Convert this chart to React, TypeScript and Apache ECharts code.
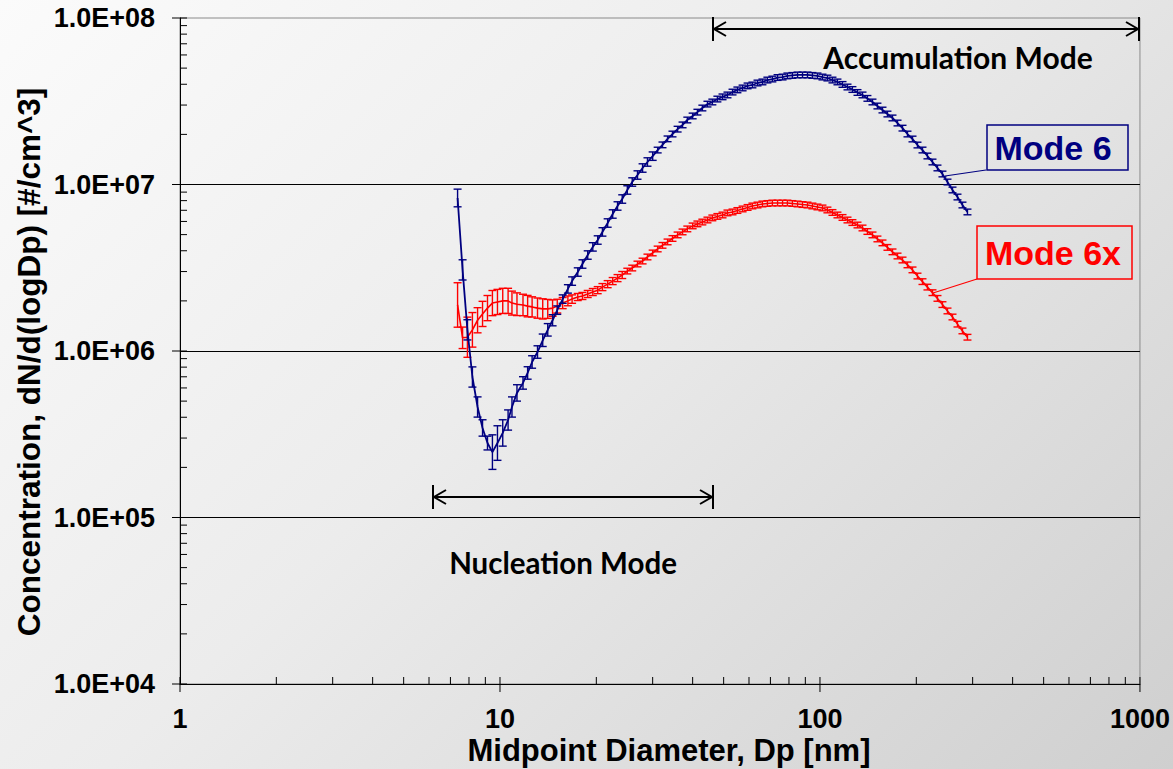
import React, { useEffect, useRef } from "react";
import * as echarts from "echarts";

// SMPS channel midpoint diameters [nm]
const diameters = [
  7.37, 7.64, 7.91, 8.2, 8.51, 8.82, 9.14, 9.47, 9.82, 10.2,
  10.6, 10.9, 11.3, 11.8, 12.2, 12.6, 13.1, 13.6, 14.1, 14.6,
  15.1, 15.7, 16.3, 16.8, 17.5, 18.1, 18.8, 19.5, 20.2, 20.9,
  21.7, 22.5, 23.3, 24.1, 25.0, 25.9, 26.9, 27.9, 28.9, 30.0,
  31.1, 32.2, 33.4, 34.6, 35.9, 37.2, 38.5, 40.0, 41.4, 42.9,
  44.5, 46.1, 47.8, 49.6, 51.4, 53.3, 55.2, 57.3, 59.4, 61.5,
  63.8, 66.1, 68.5, 71.0, 73.7, 76.4, 79.1, 82.0, 85.1, 88.2,
  91.4, 94.7, 98.2, 101.8, 105.5, 109.4, 113.4, 117.6, 121.9, 126.3,
  131.0, 135.8, 140.7, 145.9, 151.2, 156.8, 162.5, 168.5, 174.7, 181.1,
  187.7, 194.6, 201.7, 209.1, 216.7, 224.7, 232.9, 241.4, 250.3, 259.5,
  269.0, 278.8, 289.0,
];

// Mode 6 concentration dN/dlogDp [#/cm^3]
const mode6 = [
  8.3e6, 3.07e6, 1.34e6, 6.98e5, 4.61e5, 3.45e5, 2.8e5, 2.47e5, 2.8e5, 3.22e5,
  3.85e5, 4.61e5, 5.6e5, 6.43e5, 7.38e5, 8.59e5, 9.86e5, 1.16e6, 1.34e6, 1.53e6,
  1.76e6, 2.05e6, 2.36e6, 2.63e6, 2.98e6, 3.33e6, 3.77e6, 4.22e6, 4.64e6, 5.19e6,
  5.87e6, 6.65e6, 7.43e6, 8.18e6, 9.27e6, 1.035e7, 1.14e7, 1.256e7, 1.365e7, 1.48e7,
  1.61e7, 1.73e7, 1.88e7, 2.01e7, 2.15e7, 2.28e7, 2.44e7, 2.58e7, 2.72e7, 2.88e7,
  3.04e7, 3.13e7, 3.26e7, 3.36e7, 3.45e7, 3.59e7, 3.7e7, 3.8e7, 3.91e7, 3.96e7,
  4.07e7, 4.13e7, 4.24e7, 4.3e7, 4.39e7, 4.42e7, 4.49e7, 4.52e7, 4.55e7, 4.55e7,
  4.55e7, 4.52e7, 4.49e7, 4.42e7, 4.36e7, 4.24e7, 4.13e7, 3.99e7, 3.85e7, 3.72e7,
  3.57e7, 3.45e7, 3.29e7, 3.13e7, 2.96e7, 2.8e7, 2.65e7, 2.51e7, 2.34e7, 2.18e7,
  2.01e7, 1.876e7, 1.726e7, 1.611e7, 1.483e7, 1.365e7, 1.257e7, 1.156e7, 1.035e7, 9.27e6,
  8.41e6, 7.53e6, 6.84e6,
];

// Mode 6 relative error
const mode6Err = [
  0.13, 0.15, 0.15, 0.15, 0.15, 0.12, 0.1, 0.27, 0.27, 0.2,
  0.15, 0.15, 0.12, 0.09, 0.09, 0.09, 0.09, 0.09, 0.09, 0.08,
  0.06, 0.06, 0.06, 0.06, 0.06, 0.06, 0.06, 0.06, 0.06, 0.06,
  0.06, 0.06, 0.06, 0.06, 0.06, 0.06, 0.06, 0.06, 0.06, 0.06,
  0.04, 0.04, 0.04, 0.04, 0.04, 0.04, 0.04, 0.04, 0.04, 0.04,
  0.04, 0.04, 0.04, 0.04, 0.04, 0.04, 0.04, 0.04, 0.04, 0.04,
  0.04, 0.04, 0.04, 0.04, 0.04, 0.04, 0.04, 0.04, 0.04, 0.04,
  0.04, 0.04, 0.04, 0.04, 0.04, 0.04, 0.04, 0.04, 0.04, 0.04,
  0.04, 0.04, 0.04, 0.04, 0.04, 0.04, 0.04, 0.04, 0.04, 0.04,
  0.04, 0.04, 0.04, 0.04, 0.04, 0.04, 0.04, 0.04, 0.04, 0.04,
  0.04, 0.04, 0.04,
];

// Mode 6x concentration dN/dlogDp [#/cm^3]
const mode6x = [
  1.89e6, 1.2e6, 1.21e6, 1.34e6, 1.53e6, 1.67e6, 1.81e6, 1.94e6, 1.97e6, 2.0e6,
  2.0e6, 1.94e6, 1.91e6, 1.89e6, 1.86e6, 1.84e6, 1.81e6, 1.79e6, 1.79e6, 1.81e6,
  1.86e6, 1.94e6, 2.0e6, 2.05e6, 2.11e6, 2.14e6, 2.2e6, 2.26e6, 2.32e6, 2.42e6,
  2.52e6, 2.63e6, 2.74e6, 2.86e6, 3.02e6, 3.15e6, 3.33e6, 3.47e6, 3.67e6, 3.88e6,
  4.1e6, 4.31e6, 4.52e6, 4.74e6, 4.98e6, 5.19e6, 5.41e6, 5.64e6, 5.8e6, 5.95e6,
  6.12e6, 6.3e6, 6.43e6, 6.56e6, 6.75e6, 6.84e6, 6.98e6, 7.13e6, 7.28e6, 7.43e6,
  7.53e6, 7.64e6, 7.69e6, 7.74e6, 7.74e6, 7.74e6, 7.74e6, 7.69e6, 7.64e6, 7.58e6,
  7.53e6, 7.43e6, 7.33e6, 7.23e6, 7.03e6, 6.79e6, 6.56e6, 6.34e6, 6.12e6, 5.91e6,
  5.71e6, 5.48e6, 5.22e6, 4.98e6, 4.71e6, 4.46e6, 4.19e6, 3.94e6, 3.72e6, 3.52e6,
  3.29e6, 3.07e6, 2.82e6, 2.61e6, 2.42e6, 2.24e6, 2.07e6, 1.9e6, 1.74e6, 1.6e6,
  1.45e6, 1.32e6, 1.21e6,
];

// Mode 6x relative error
const mode6xErr = [
  0.36, 0.16, 0.32, 0.27, 0.19, 0.19, 0.19, 0.19, 0.19, 0.19,
  0.19, 0.18, 0.17, 0.16, 0.16, 0.15, 0.15, 0.15, 0.14, 0.12,
  0.1, 0.08, 0.07, 0.06, 0.05, 0.05, 0.05, 0.05, 0.05, 0.05,
  0.05, 0.05, 0.05, 0.05, 0.04, 0.04, 0.04, 0.04, 0.04, 0.04,
  0.04, 0.04, 0.04, 0.04, 0.04, 0.04, 0.04, 0.04, 0.04, 0.04,
  0.04, 0.04, 0.04, 0.04, 0.04, 0.04, 0.04, 0.04, 0.04, 0.04,
  0.04, 0.04, 0.04, 0.04, 0.04, 0.04, 0.04, 0.04, 0.04, 0.04,
  0.04, 0.04, 0.04, 0.04, 0.04, 0.04, 0.04, 0.04, 0.04, 0.04,
  0.04, 0.04, 0.04, 0.04, 0.04, 0.04, 0.04, 0.04, 0.04, 0.04,
  0.04, 0.04, 0.04, 0.04, 0.04, 0.04, 0.04, 0.04, 0.04, 0.04,
  0.04, 0.04, 0.04,
];

const xTickLabels = ["1", "10", "100", "1000"];
const yTickLabels = ["1.0E+04", "1.0E+05", "1.0E+06", "1.0E+07", "1.0E+08"];
const xMajorTicks = [1, 10, 100, 1000];
const yMajorTicks = [1e4, 1e5, 1e6, 1e7, 1e8];
const minorMultipliers = [2, 3, 4, 5, 6, 7, 8, 9];

const X_MIN = 1;
const Y_MIN = 1e4;
const NAVY = "#000080";
const RED = "#ff0000";
const FONT = "'Liberation Sans', Arial, sans-serif";
const ANNOT_FONT = "Lato, 'Open Sans', sans-serif";

function errorBarRenderer(color: string) {
  return (params: any, api: any) => {
    const x = api.value(0);
    const lo = api.coord([x, api.value(1)]);
    const hi = api.coord([x, api.value(2)]);
    const hw = 4;
    const style = { stroke: color, lineWidth: 1.4 };
    return {
      type: "group",
      children: [
        { type: "line", shape: { x1: lo[0], y1: lo[1], x2: hi[0], y2: hi[1] }, style },
        { type: "line", shape: { x1: lo[0] - hw, y1: lo[1], x2: lo[0] + hw, y2: lo[1] }, style },
        { type: "line", shape: { x1: hi[0] - hw, y1: hi[1], x2: hi[0] + hw, y2: hi[1] }, style },
      ],
    };
  };
}

function minorOf(majors: number[]) {
  const out: number[] = [];
  for (let i = 0; i < majors.length - 1; i++) {
    for (const m of minorMultipliers) out.push(majors[i] * m);
  }
  return out;
}

function arrow(x1: number, x2: number, y: number) {
  const s = { stroke: "#000", lineWidth: 2 };
  const h = 12;
  const a = 13;
  const w = 7;
  return {
    type: "group",
    children: [
      { type: "line", shape: { x1, y1: y, x2, y2: y }, style: s },
      { type: "line", shape: { x1, y1: y - h, x2: x1, y2: y + h }, style: s },
      { type: "line", shape: { x1: x2, y1: y - h, x2, y2: y + h }, style: s },
      { type: "polyline", shape: { points: [[x1 + a, y - w], [x1 + 1, y], [x1 + a, y + w]] }, style: { ...s, fill: "none" } },
      { type: "polyline", shape: { points: [[x2 - a, y - w], [x2 - 1, y], [x2 - a, y + w]] }, style: { ...s, fill: "none" } },
    ],
  };
}

export default function App() {
  const ref = useRef<HTMLDivElement>(null);

  useEffect(() => {
    const chart = echarts.init(ref.current!, undefined, { renderer: "svg" });

    const xTicks = [
      ...xMajorTicks.map((v) => [v, Y_MIN, 1]),
      ...minorOf(xMajorTicks).map((v) => [v, Y_MIN, 0]),
    ];
    const yTicks = [
      ...yMajorTicks.map((v) => [X_MIN, v, 1]),
      ...minorOf(yMajorTicks).map((v) => [X_MIN, v, 0]),
    ];

    const m6Line = diameters.map((d, i) => [d, mode6[i]]);
    const m6xLine = diameters.map((d, i) => [d, mode6x[i]]);
    const m6Err = diameters.map((d, i) => [d, mode6[i] / (1 + mode6Err[i]), mode6[i] * (1 + mode6Err[i])]);
    const m6xErr = diameters.map((d, i) => [d, mode6x[i] / (1 + mode6xErr[i]), mode6x[i] * (1 + mode6xErr[i])]);

    const tickStyle = { stroke: "#000", lineWidth: 1 };

    chart.setOption({
      animation: false,
      backgroundColor: "transparent",
      grid: {
        left: 180,
        top: 18,
        width: 960,
        height: 666,
        show: true,
        borderColor: "#8a8a8a",
        borderWidth: 1,
        backgroundColor: "transparent",
      },
      xAxis: {
        type: "log",
        logBase: 10,
        min: 1,
        max: 1000,
        axisLine: { show: true, lineStyle: { color: "#000", width: 1 } },
        axisTick: { show: false },
        splitLine: { show: false },
        axisLabel: {
          showMinLabel: true,
          showMaxLabel: true,
          margin: 21,
          color: "#000",
          fontSize: 27,
          fontWeight: "bold",
          fontFamily: FONT,
          formatter: (v: number) => xTickLabels[Math.round(Math.log10(v))] ?? "",
        },
      },
      yAxis: {
        type: "log",
        logBase: 10,
        min: 1e4,
        max: 1e8,
        axisLine: { show: true, lineStyle: { color: "#000", width: 1 } },
        axisTick: { show: false },
        splitLine: {
          show: true,
          showMinLine: false,
          showMaxLine: false,
          lineStyle: { color: "#000", width: 1 },
        },
        axisLabel: {
          showMinLabel: true,
          showMaxLabel: true,
          margin: 25,
          color: "#000",
          fontSize: 27,
          fontWeight: "bold",
          fontFamily: FONT,
          formatter: (v: number) => yTickLabels[Math.round(Math.log10(v)) - 4] ?? "",
        },
      },
      series: [
        {
          type: "custom",
          name: "Mode 6x error",
          data: m6xErr,
          encode: { x: 0, y: [1, 2] },
          renderItem: errorBarRenderer(RED),
          silent: true,
          z: 2,
        },
        {
          type: "line",
          name: "Mode 6x",
          data: m6xLine,
          showSymbol: false,
          symbol: "none",
          lineStyle: { color: RED, width: 1.6 },
          itemStyle: { color: RED },
          silent: true,
          z: 3,
        },
        {
          type: "custom",
          name: "Mode 6 error",
          data: m6Err,
          encode: { x: 0, y: [1, 2] },
          renderItem: errorBarRenderer(NAVY),
          silent: true,
          z: 4,
        },
        {
          type: "line",
          name: "Mode 6",
          data: m6Line,
          showSymbol: false,
          symbol: "none",
          lineStyle: { color: NAVY, width: 1.8 },
          itemStyle: { color: NAVY },
          silent: true,
          z: 5,
        },
        {
          type: "custom",
          name: "xticks",
          data: xTicks,
          encode: { x: 0, y: 1 },
          silent: true,
          z: 6,
          renderItem: (params: any, api: any) => {
            const p = api.coord([api.value(0), api.value(1)]);
            const major = api.value(2) === 1;
            return {
              type: "line",
              shape: { x1: p[0], y1: p[1] - 7, x2: p[0], y2: major ? p[1] + 8 : p[1] },
              style: tickStyle,
            };
          },
        },
        {
          type: "custom",
          name: "yticks",
          data: yTicks,
          encode: { x: 0, y: 1 },
          silent: true,
          z: 6,
          renderItem: (params: any, api: any) => {
            const p = api.coord([api.value(0), api.value(1)]);
            const major = api.value(2) === 1;
            return {
              type: "line",
              shape: { x1: major ? p[0] - 8 : p[0], y1: p[1], x2: p[0] + 7, y2: p[1] },
              style: tickStyle,
            };
          },
        },
      ],
      graphic: [
        {
          type: "text",
          x: 669,
          y: 750,
          style: {
            text: "Midpoint Diameter, Dp [nm]",
            fill: "#000",
            font: `bold 31px ${FONT}`,
            align: "center",
            verticalAlign: "middle",
          },
        },
        {
          type: "text",
          x: 29,
          y: 362,
          rotation: Math.PI / 2,
          style: {
            text: "Concentration, dN/d(logDp) [#/cm^3]",
            fill: "#000",
            font: `bold 31.5px ${FONT}`,
            align: "center",
            verticalAlign: "middle",
          },
        },
        arrow(713, 1139, 29),
        {
          type: "text",
          x: 958,
          y: 57,
          style: {
            text: "Accumulation Mode",
            fill: "#000",
            font: `bold 30px ${ANNOT_FONT}`,
            align: "center",
            verticalAlign: "middle",
          },
        },
        arrow(433, 713, 497),
        {
          type: "text",
          x: 563,
          y: 562,
          style: {
            text: "Nucleation Mode",
            fill: "#000",
            font: `bold 29.5px ${ANNOT_FONT}`,
            align: "center",
            verticalAlign: "middle",
          },
        },
        {
          type: "rect",
          shape: { x: 987, y: 125, width: 141, height: 45 },
          style: { fill: "none", stroke: NAVY, lineWidth: 1.5 },
        },
        {
          type: "text",
          x: 1053,
          y: 148,
          style: {
            text: "Mode 6",
            fill: NAVY,
            font: `bold 34px ${FONT}`,
            align: "center",
            verticalAlign: "middle",
          },
        },
        {
          type: "line",
          shape: { x1: 986, y1: 170, x2: 945, y2: 176 },
          style: { stroke: NAVY, lineWidth: 1.2 },
        },
        {
          type: "rect",
          shape: { x: 977, y: 226, width: 155, height: 53 },
          style: { fill: "none", stroke: RED, lineWidth: 1.5 },
        },
        {
          type: "text",
          x: 1053,
          y: 253,
          style: {
            text: "Mode 6x",
            fill: RED,
            font: `bold 34px ${FONT}`,
            align: "center",
            verticalAlign: "middle",
          },
        },
        {
          type: "line",
          shape: { x1: 977, y1: 279, x2: 933, y2: 293 },
          style: { stroke: RED, lineWidth: 1.2 },
        },
      ],
    });

    return () => chart.dispose();
  }, []);

  return (
    <div
      ref={ref}
      style={{
        position: "fixed",
        left: 0,
        top: 0,
        width: 1173,
        height: 769,
        background: "linear-gradient(135deg, #fbfbfb 0%, #ececec 45%, #cfcfcf 100%)",
      }}
    />
  );
}
